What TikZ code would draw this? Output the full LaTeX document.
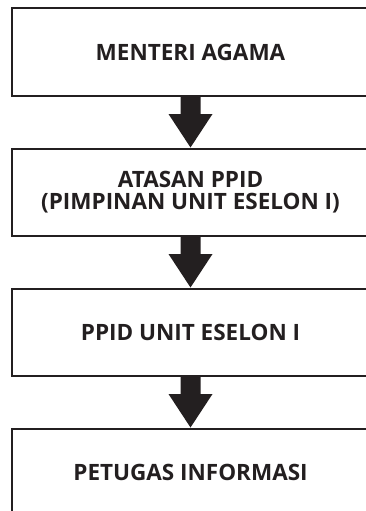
\documentclass[tikz,border=0pt]{standalone}
\usepackage{fontspec}
\setmainfont{Open Sans}
\definecolor{ink}{HTML}{231F20}
\begin{document}
\begin{tikzpicture}[x=1pt,y=-1pt,
  box/.style={draw=ink, line width=2pt, minimum width=357pt, minimum height=87pt,
    inner sep=0pt, align=center, text=ink,
    font=\fontsize{22.5}{22.5}\selectfont\bfseries},
  barrow/.style={fill=ink, to path={
    ([xshift=-10pt]\tikztostart) -- ([xshift=10pt]\tikztostart)
    -- ([xshift=10pt,yshift=-17.5pt]\tikztostart)
    -- ([xshift=22pt,yshift=-17.5pt]\tikztostart)
    -- (\tikztotarget)
    -- ([xshift=-22pt,yshift=-17.5pt]\tikztostart)
    -- ([xshift=-10pt,yshift=-17.5pt]\tikztostart) -- cycle}}]
\useasboundingbox (0,0) rectangle (366,511);
\clip (0,0) rectangle (366,511);
\node[box] (b1) at (190.5,52) {MENTERI AGAMA};
\node[box] (b2) at (190.5,192) {ATASAN PPID\\(PIMPINAN UNIT ESELON I)};
\node[box] (b3) at (190.5,332) {PPID UNIT ESELON I};
\node[box] (b4) at (190.5,472) {PETUGAS INFORMASI};
\path[barrow] (b1.south) to (b2.north);
\path[barrow] (b2.south) to (b3.north);
\path[barrow] (b3.south) to (b4.north);
\end{tikzpicture}
\end{document}
